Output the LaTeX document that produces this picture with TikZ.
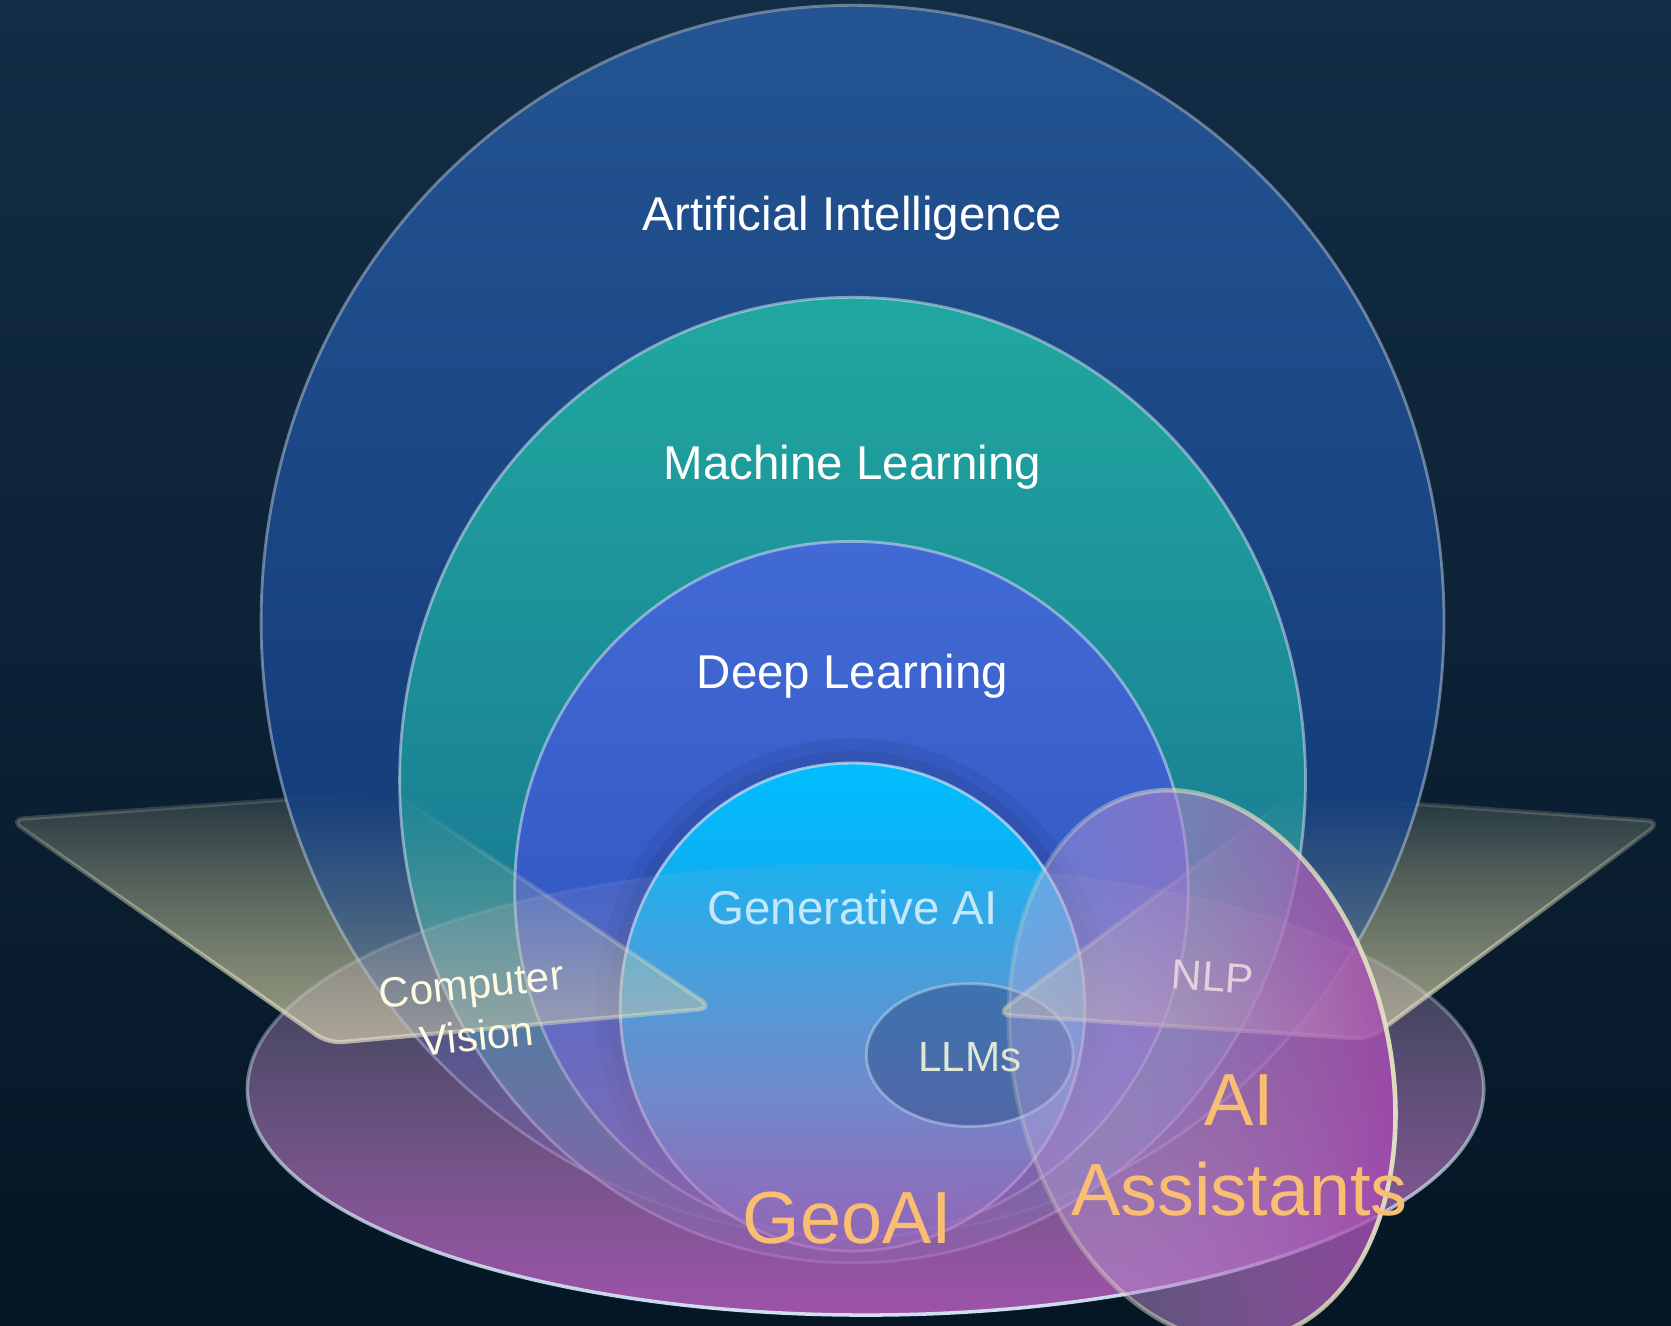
\documentclass[tikz,border=0pt]{standalone}
\usepackage{fontspec}
\setmainfont{Liberation Sans}
\usetikzlibrary{fadings}

\definecolor{bgtop}{RGB}{19,45,70}
\definecolor{bgbot}{RGB}{5,22,37}
\definecolor{aitop}{RGB}{36,84,146}
\definecolor{aibot}{RGB}{12,50,110}
\definecolor{mltop}{RGB}{32,168,160}
\definecolor{mlbot}{RGB}{22,100,140}
\definecolor{dltop}{RGB}{66,106,212}
\definecolor{dlbot}{RGB}{40,76,186}
\definecolor{gentop}{RGB}{0,190,255}
\definecolor{genbot}{RGB}{60,125,200}
\definecolor{llmfill}{RGB}{45,75,135}
\definecolor{geotop}{RGB}{185,172,200}
\definecolor{geobot}{RGB}{172,88,182}
\definecolor{asleft}{RGB}{195,182,228}
\definecolor{asright}{RGB}{162,66,170}
\definecolor{rimcol}{RGB}{210,225,242}
\definecolor{khaki}{RGB}{210,210,165}
\definecolor{khakiedge}{RGB}{228,228,195}
\definecolor{gentext}{RGB}{195,232,252}
\definecolor{llmtext}{RGB}{222,232,214}
\definecolor{nlptext}{RGB}{232,206,220}
\definecolor{cvtext}{RGB}{255,250,226}
\definecolor{geoorange}{RGB}{250,190,115}

% rings: opaque above, thinner at the bottom
\pgfdeclareverticalshading{ringmask}{100bp}{color(0bp)=(black!70); color(14bp)=(black!70); color(40bp)=(black!0); color(100bp)=(black!0)}
\pgfdeclarefading{ringfade}{\pgfuseshading{ringmask}}
\tikzfading[name=geofade, top color=transparent!90, bottom color=transparent!8]
\tikzfading[name=georimfade, top color=transparent!100, bottom color=transparent!0]
\tikzfading[name=wingback, top color=transparent!88, bottom color=transparent!55]
\tikzfading[name=wingfront, top color=transparent!100, bottom color=transparent!50]
\tikzfading[name=asfade, left color=transparent!70, right color=transparent!10]
\tikzfading[name=asrimfade, left color=transparent!85, right color=transparent!0]

\tikzset{
  rim/.style={draw=rimcol, draw opacity=0.55, line width=0.8pt},
  halo/.style={draw=black, draw opacity=0.06, line width=#1, path fading=ringfade},
  wing/.style={draw=khakiedge, line width=1.2pt, fill=khaki, rounded corners=4pt, path fading=#1},
  lbl/.style={text=white, font=\fontsize{13.5}{16}\selectfont, inner sep=0pt},
  small/.style={font=\fontsize{12}{14.8}\selectfont, inner sep=0pt},
  big/.style={text=geoorange, font=\fontsize{21}{25.7}\selectfont, inner sep=0pt, align=center},
}

\begin{document}
\begin{tikzpicture}[x=0.010657cm, y=0.010657cm]
    \coordinate (NW) at (0,0);
    \coordinate (SE) at (1568,-1244);
    \useasboundingbox (NW) rectangle (SE);
    \shade[top color=bgtop, bottom color=bgbot] (NW) rectangle (SE);

    % centres of the rings
    \coordinate (ai) at (800,-583);
    \coordinate (ml) at (800,-732);
    \coordinate (dl) at (799,-835);
    \coordinate (gen) at (800,-945);
    \coordinate (llm) at (910,-990);
    \coordinate (geo) at (812,-1022);
    \coordinate (asst) at (1128,-1000);

    % corners of the two wings
    \coordinate (cvA) at (9,-769);
    \coordinate (cvB) at (369,-743);
    \coordinate (cvC) at (669,-946);
    \coordinate (cvD) at (308,-979);
    \coordinate (nlpA) at (1559,-771);
    \coordinate (nlpB) at (1212,-746);
    \coordinate (nlpC) at (935,-952);
    \coordinate (nlpD) at (1285,-975);

    % wings behind the rings
    \draw[wing=wingback] (cvA) -- (cvB) -- (cvC) -- (cvD) -- cycle;
    \draw[wing=wingback] (nlpA) -- (nlpB) -- (nlpC) -- (nlpD) -- cycle;

    \shade[top color=aitop, bottom color=aibot, path fading=ringfade] (ai) ellipse [x radius=555, y radius=578];
    \draw[rim, draw opacity=0.45] (ai) ellipse [x radius=555, y radius=578];

    \shade[top color=mltop, bottom color=mlbot, path fading=ringfade] (ml) ellipse [x radius=425, y radius=453];
    \draw[rim] (ml) ellipse [x radius=425, y radius=453];

    \shade[top color=dltop, bottom color=dlbot, path fading=ringfade] (dl) ellipse [x radius=316, y radius=327];
    \draw[rim] (dl) ellipse [x radius=316, y radius=327];

    \draw[halo=14pt] (gen) ellipse [x radius=218, y radius=229];
    \draw[halo=7pt] (gen) ellipse [x radius=218, y radius=229];
    \shade[top color=gentop, bottom color=genbot, path fading=ringfade] (gen) ellipse [x radius=218, y radius=229];
    \draw[rim, draw opacity=0.7] (gen) ellipse [x radius=218, y radius=229];

    % GeoAI over the lower parts of the rings
    \shade[top color=geotop, bottom color=geobot, path fading=geofade] (geo) ellipse [x radius=580, y radius=212];
    \draw[rimcol, line width=1pt, path fading=georimfade] (geo) ellipse [x radius=580, y radius=212];

    \fill[llmfill, fill opacity=0.5] (llm) ellipse [x radius=97, y radius=67];
    \draw[rim, draw opacity=0.45] (llm) ellipse [x radius=97, y radius=67];

    % wings again, lower parts over the rings
    \draw[wing=wingfront] (cvA) -- (cvB) -- (cvC) -- (cvD) -- cycle;
    \draw[wing=wingfront] (nlpA) -- (nlpB) -- (nlpC) -- (nlpD) -- cycle;

    \shade[rotate around={13:(asst)}, left color=asleft, right color=asright, path fading=asfade] (asst) ellipse [x radius=176, y radius=262];
    \draw[rotate around={13:(asst)}, draw=khakiedge, line width=1.3pt, path fading=asrimfade] (asst) ellipse [x radius=176, y radius=262];

    \node[lbl] (tai) at (800,-205) {Artificial Intelligence};
    \node[lbl] (tml) at (800,-438) {Machine Learning};
    \node[lbl] (tdl) at (800,-635) {Deep Learning};
    \node[lbl, text=gentext] (tgen) at (800,-852) {Generative AI};
    \node[small, text=llmtext] (tllm) at (910,-992) {LLMs};
    \node[small, text=nlptext, rotate=-4] (tnlp) at (1138,-917) {NLP};
    \node[small, text=cvtext, align=center, rotate=6] (tcv) at (445,-948) {Computer\\Vision};
    \node[big] (tgeo) at (795,-1143) {GeoAI};
    \node[big] (tasst) at (1163,-1075) {AI\\Assistants};
\end{tikzpicture}
\end{document}
